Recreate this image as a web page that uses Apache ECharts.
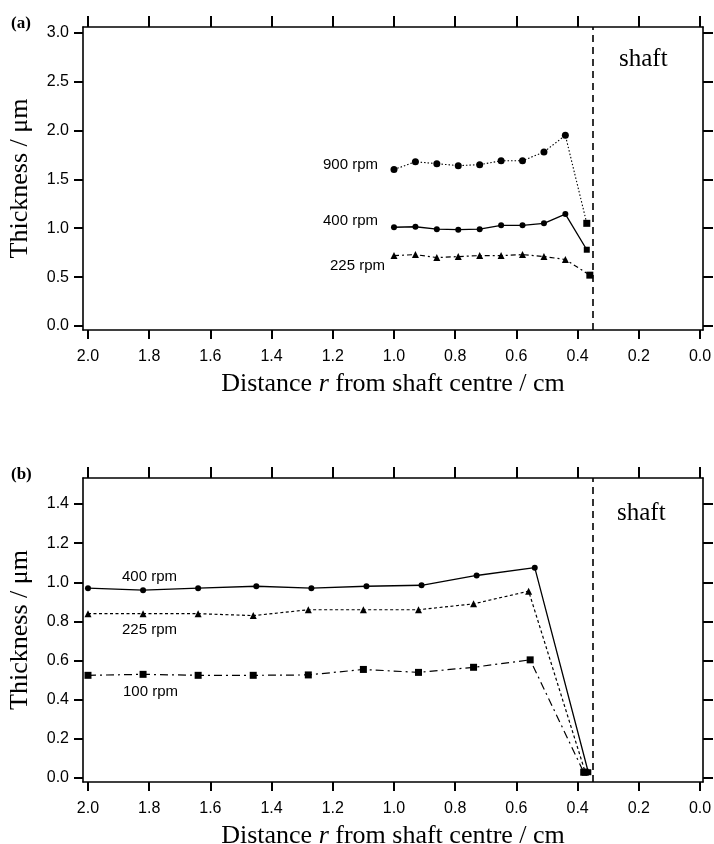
<!DOCTYPE html>
<html><head><meta charset="utf-8">
<script src="https://cdn.jsdelivr.net/npm/echarts@6/dist/echarts.min.js"></script>
<style>html,body{margin:0;padding:0;background:#fff}#c{width:714px;height:844px}</style>
</head><body><div id="c"></div>
<script>
// ---- tick labels ----
const xTicks = [0, 0.2, 0.4, 0.6, 0.8, 1.0, 1.2, 1.4, 1.6, 1.8, 2.0];
const yTicksA = [0, 0.5, 1.0, 1.5, 2.0, 2.5, 3.0];
const yTicksB = [0, 0.2, 0.4, 0.6, 0.8, 1.0, 1.2, 1.4];
const shaftR = [0.353];

// ---- panel (a) ----
const rA900 = [1.00, 0.93, 0.86, 0.79, 0.72, 0.65, 0.58, 0.51, 0.44, 0.37];
const a900  = [1.60, 1.68, 1.66, 1.64, 1.65, 1.69, 1.69, 1.78, 1.95, 1.05];
const rA400 = [1.00, 0.93, 0.86, 0.79, 0.72, 0.65, 0.58, 0.51, 0.44, 0.37];
const a400  = [1.01, 1.015, 0.99, 0.985, 0.99, 1.03, 1.03, 1.05, 1.145, 0.78];
const rA225 = [1.00, 0.93, 0.86, 0.79, 0.72, 0.65, 0.58, 0.51, 0.44, 0.36];
const a225  = [0.72, 0.73, 0.70, 0.71, 0.72, 0.72, 0.73, 0.71, 0.68, 0.52];

// ---- panel (b) ----
const rB400 = [2.00, 1.82, 1.64, 1.45, 1.27, 1.09, 0.91, 0.73, 0.54, 0.365];
const b400  = [0.97, 0.96, 0.97, 0.98, 0.97, 0.98, 0.985, 1.035, 1.075, 0.03];
const rB225 = [2.00, 1.82, 1.64, 1.46, 1.28, 1.10, 0.92, 0.74, 0.56, 0.375];
const b225  = [0.84, 0.84, 0.84, 0.83, 0.86, 0.86, 0.86, 0.89, 0.955, 0.03];
const rB100 = [2.00, 1.82, 1.64, 1.46, 1.28, 1.10, 0.92, 0.74, 0.555, 0.38];
const b100  = [0.525, 0.53, 0.525, 0.525, 0.527, 0.555, 0.54, 0.566, 0.604, 0.03];

const SANS = '"Liberation Sans", Arial, sans-serif';
const SERIF = '"Liberation Serif", "Times New Roman", serif';

function pts(xs, ys, sym, lastSym) {
  return xs.map((x, i) => ({ value: [x, ys[i]], symbol: i === xs.length - 1 ? lastSym : sym }));
}

const lineAxis = { show: true, onZero: false, lineStyle: { color: '#000', width: 1.6 } };

function xAxes(g) {
  return [
    { type: 'value', gridIndex: g, position: 'bottom', inverse: true, min: -0.0098, max: 2.0163,
      axisLine: lineAxis, splitLine: { show: false },
      axisTick: { show: true, inside: false, length: 9, lineStyle: { color: '#000', width: 2 }, customValues: xTicks },
      axisLabel: { show: true, customValues: xTicks, formatter: v => v.toFixed(1), color: '#000',
                   fontFamily: SANS, fontSize: 16, margin: 19 },
      name: '{n|Distance }{i|r}{n| from shaft centre / cm}', nameLocation: 'middle', nameGap: 41,
      nameTextStyle: { rich: { n: { fontFamily: SERIF, fontSize: 26, color: '#000' },
                               i: { fontFamily: SERIF, fontSize: 26, fontStyle: 'italic', color: '#000' } } } },
    { type: 'value', gridIndex: g, position: 'top', inverse: true, min: -0.0098, max: 2.0163,
      axisLine: lineAxis, splitLine: { show: false },
      axisTick: { show: true, inside: false, length: 11, lineStyle: { color: '#000', width: 2 }, customValues: xTicks },
      axisLabel: { show: false } }
  ];
}
function yAxes(g, mn, mx, ticks) {
  return [
    { type: 'value', gridIndex: g, position: 'left', min: mn, max: mx,
      axisLine: lineAxis, splitLine: { show: false },
      axisTick: { show: true, inside: false, length: 9, lineStyle: { color: '#000', width: 2 }, customValues: ticks },
      axisLabel: { show: true, customValues: ticks, formatter: v => v.toFixed(1), color: '#000',
                   fontFamily: SANS, fontSize: 16, margin: 14 },
      name: 'Thickness / \u03bcm', nameLocation: 'middle', nameRotate: 90, nameGap: 50,
      nameTextStyle: { fontFamily: SERIF, fontSize: 26, color: '#000' } },
    { type: 'value', gridIndex: g, position: 'right', min: mn, max: mx,
      axisLine: lineAxis, splitLine: { show: false },
      axisTick: { show: true, inside: false, length: 10, lineStyle: { color: '#000', width: 2 }, customValues: ticks },
      axisLabel: { show: false } }
  ];
}

function ser(xi, yi, data, lineType, width, symSize) {
  return { type: 'line', xAxisIndex: xi, yAxisIndex: yi, data: data, symbolSize: symSize,
           lineStyle: { color: '#000', width: width, type: lineType },
           itemStyle: { color: '#000' }, animation: false, z: 3 };
}
const shaftMark = { silent: true, symbol: 'none', label: { show: false },
  lineStyle: { color: '#000', width: 1.6, type: [7, 5] }, data: [{ xAxis: shaftR[0] }] };

const sA900 = ser(0, 0, pts(rA900, a900, 'circle', 'rect'), [1.5, 2], 1.1, 7);
sA900.markLine = shaftMark;
const sB400 = ser(2, 2, pts(rB400, b400, 'circle', 'rect'), 'solid', 1.3, 6);
sB400.markLine = shaftMark;

const option = {
  backgroundColor: '#fff',
  animation: false,
  grid: [
    { left: 83, top: 27, width: 620, height: 303, containLabel: false, outerBoundsMode: 'none' },
    { left: 83, top: 478, width: 620, height: 304, containLabel: false, outerBoundsMode: 'none' }
  ],
  xAxis: [...xAxes(0), ...xAxes(1)],
  yAxis: [...yAxes(0, -0.041, 3.058, yTicksA), ...yAxes(1, -0.02, 1.533, yTicksB)],
  series: [
    sA900,
    ser(0, 0, pts(rA400, a400, 'circle', 'rect'), 'solid', 1.3, 6),
    ser(0, 0, pts(rA225, a225, 'triangle', 'rect'), [5, 3, 2, 3], 1.2, 7),
    sB400,
    ser(2, 2, pts(rB225, b225, 'triangle', 'rect'), [3, 2.5], 1.2, 7),
    ser(2, 2, pts(rB100, b100, 'rect', 'rect'), [8, 4, 2, 4], 1.2, 7)
  ],
  graphic: [
    { type: 'text', x: 11, y: 24, style: { text: '(a)', font: 'bold 17px ' + SERIF, fill: '#000', verticalAlign: 'middle' } },
    { type: 'text', x: 11, y: 475, style: { text: '(b)', font: 'bold 17px ' + SERIF, fill: '#000', verticalAlign: 'middle' } },
    { type: 'text', x: 619, y: 59, style: { text: 'shaft', font: '25px ' + SERIF, fill: '#000', verticalAlign: 'middle' } },
    { type: 'text', x: 617, y: 513, style: { text: 'shaft', font: '25px ' + SERIF, fill: '#000', verticalAlign: 'middle' } },
    { type: 'text', x: 323, y: 165, style: { text: '900 rpm', font: '15px ' + SANS, fill: '#000', verticalAlign: 'middle' } },
    { type: 'text', x: 323, y: 221, style: { text: '400 rpm', font: '15px ' + SANS, fill: '#000', verticalAlign: 'middle' } },
    { type: 'text', x: 330, y: 266, style: { text: '225 rpm', font: '15px ' + SANS, fill: '#000', verticalAlign: 'middle' } },
    { type: 'text', x: 122, y: 577, style: { text: '400 rpm', font: '15px ' + SANS, fill: '#000', verticalAlign: 'middle' } },
    { type: 'text', x: 122, y: 630, style: { text: '225 rpm', font: '15px ' + SANS, fill: '#000', verticalAlign: 'middle' } },
    { type: 'text', x: 123, y: 692, style: { text: '100 rpm', font: '15px ' + SANS, fill: '#000', verticalAlign: 'middle' } }
  ]
};
const chart = echarts.init(document.getElementById('c'), null, { renderer: 'canvas' });
chart.setOption(option);
</script>
</body></html>
